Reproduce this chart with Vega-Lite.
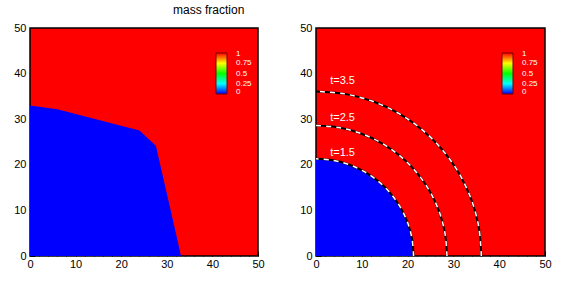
{
  "$schema": "https://vega.github.io/schema/vega-lite/v6.json",
  "background": "white",
  "padding": {"left": 13, "top": 4, "right": 5, "bottom": 5},
  "title": {"text": "mass fraction", "anchor": "start", "frame": "group", "dx": 143, "fontSize": 12, "font": "Liberation Sans", "fontWeight": "normal", "color": "#000000", "offset": 5},
  "config": {
    "font": "Liberation Sans",
    "view": {"stroke": null},
    "axis": {"labelFont": "Liberation Sans", "labelFontSize": 11, "labelColor": "#000000", "domainColor": "#000000", "tickColor": "#000000", "grid": false, "title": null, "labelFlush": false, "zindex": 1}
  },
  "datasets": {
    "bg": [{"x": 0, "x2": 50, "y": 0, "y2": 50, "f": 1}],
    "leftBlue": [
      {"x": 0, "y": 33.0, "f": 0},
      {"x": 6, "y": 32.2, "f": 0},
      {"x": 24, "y": 27.5, "f": 0},
      {"x": 27.6, "y": 24.2, "f": 0},
      {"x": 32, "y": 5, "f": 0},
      {"x": 33.1, "y": 0, "f": 0}
    ],
    "rightBlue": [
      {"x": 0, "y": 21.2, "f": 0},
      {"x": 3.681, "y": 20.878, "f": 0},
      {"x": 7.251, "y": 19.921, "f": 0},
      {"x": 10.6, "y": 18.36, "f": 0},
      {"x": 13.627, "y": 16.24, "f": 0},
      {"x": 16.24, "y": 13.627, "f": 0},
      {"x": 18.36, "y": 10.6, "f": 0},
      {"x": 19.921, "y": 7.251, "f": 0},
      {"x": 20.878, "y": 3.681, "f": 0},
      {"x": 21.2, "y": 0, "f": 0}
    ],
    "fronts": [
      {"t": "1.5", "a": 0, "x": 21.3, "y": 0},
      {"t": "1.5", "a": 10, "x": 20.976, "y": 3.699},
      {"t": "1.5", "a": 20, "x": 20.015, "y": 7.285},
      {"t": "1.5", "a": 30, "x": 18.446, "y": 10.65},
      {"t": "1.5", "a": 40, "x": 16.317, "y": 13.691},
      {"t": "1.5", "a": 50, "x": 13.691, "y": 16.317},
      {"t": "1.5", "a": 60, "x": 10.65, "y": 18.446},
      {"t": "1.5", "a": 70, "x": 7.285, "y": 20.015},
      {"t": "1.5", "a": 80, "x": 3.699, "y": 20.976},
      {"t": "1.5", "a": 90, "x": 0, "y": 21.3},
      {"t": "2.5", "a": 0, "x": 28.6, "y": 0},
      {"t": "2.5", "a": 10, "x": 28.166, "y": 4.966},
      {"t": "2.5", "a": 20, "x": 26.875, "y": 9.782},
      {"t": "2.5", "a": 30, "x": 24.768, "y": 14.3},
      {"t": "2.5", "a": 40, "x": 21.909, "y": 18.384},
      {"t": "2.5", "a": 50, "x": 18.384, "y": 21.909},
      {"t": "2.5", "a": 60, "x": 14.3, "y": 24.768},
      {"t": "2.5", "a": 70, "x": 9.782, "y": 26.875},
      {"t": "2.5", "a": 80, "x": 4.966, "y": 28.166},
      {"t": "2.5", "a": 90, "x": 0, "y": 28.6},
      {"t": "3.5", "a": 0, "x": 36.1, "y": 0},
      {"t": "3.5", "a": 10, "x": 35.552, "y": 6.269},
      {"t": "3.5", "a": 20, "x": 33.923, "y": 12.347},
      {"t": "3.5", "a": 30, "x": 31.264, "y": 18.05},
      {"t": "3.5", "a": 40, "x": 27.654, "y": 23.205},
      {"t": "3.5", "a": 50, "x": 23.205, "y": 27.654},
      {"t": "3.5", "a": 60, "x": 18.05, "y": 31.264},
      {"t": "3.5", "a": 70, "x": 12.347, "y": 33.923},
      {"t": "3.5", "a": 80, "x": 6.269, "y": 35.552},
      {"t": "3.5", "a": 90, "x": 0, "y": 36.1}
    ],
    "labels": [
      {"label": "t=1.5", "x": 3.1, "y": 22.5},
      {"label": "t=2.5", "x": 3.1, "y": 30.2},
      {"label": "t=3.5", "x": 3.1, "y": 38.3}
    ]
  },
  "spacing": 34,
  "resolve": {"scale": {"color": "independent"}},
  "hconcat": [
    {
      "width": 228,
      "height": 228,
      "resolve": {"axis": {"x": "independent", "y": "independent"}},
      "layer": [
        {
          "data": {"name": "bg"},
          "mark": {"type": "rect", "stroke": "#000000", "strokeWidth": 1.5},
          "encoding": {
            "x": {"field": "x", "type": "quantitative", "scale": {"domain": [0, 50], "nice": false, "zero": false}, "axis": {"orient": "bottom", "values": [0, 10, 20, 30, 40, 50], "tickSize": -5, "labelPadding": 7, "domain": false}},
            "x2": {"field": "x2"},
            "y": {"field": "y", "type": "quantitative", "scale": {"domain": [0, 50], "nice": false, "zero": false}, "axis": {"orient": "left", "values": [0, 10, 20, 30, 40, 50], "tickSize": -5, "labelPadding": 9, "domain": false}},
            "y2": {"field": "y2"},
            "color": {"field": "f", "type": "quantitative", "scale": {"domain": [0, 0.25, 0.5, 0.75, 1], "range": ["#0000ff", "#00ffff", "#00ff00", "#ffff00", "#ff0000"], "interpolate": "rgb"},
              "legend": {"orient": "none", "legendX": 186, "legendY": 25, "direction": "vertical", "gradientLength": 41, "gradientThickness": 11, "title": null, "values": [0.04, 0.25, 0.5, 0.75, 0.98], "labelExpr": "datum.value < 0.1 ? '0' : datum.value > 0.9 ? '1' : format(datum.value, '.2~f')", "labelColor": "#ffffff", "labelFontSize": 8, "labelFont": "Liberation Sans", "labelOffset": 9, "labelOverlap": false, "gradientStrokeColor": "#7a0000", "gradientStrokeWidth": 1, "padding": 0}}
          }
        },
        {
          "data": {"name": "leftBlue"},
          "mark": {"type": "area"},
          "encoding": {
            "x": {"field": "x", "type": "quantitative", "axis": {"orient": "bottom", "values": [2, 4, 6, 8, 12, 14, 16, 18, 22, 24, 26, 28, 32, 34, 36, 38, 42, 44, 46, 48], "tickSize": -2.5, "labels": false, "domain": false}},
            "y": {"field": "y", "type": "quantitative", "axis": {"orient": "left", "values": [2, 4, 6, 8, 12, 14, 16, 18, 22, 24, 26, 28, 32, 34, 36, 38, 42, 44, 46, 48], "tickSize": -2.5, "labels": false, "domain": false}},
            "color": {"field": "f", "type": "quantitative"}
          }
        }
      ]
    },
    {
      "width": 229,
      "height": 228,
      "resolve": {"axis": {"x": "independent", "y": "independent"}},
      "layer": [
        {
          "data": {"name": "bg"},
          "mark": {"type": "rect", "stroke": "#000000", "strokeWidth": 1.5},
          "encoding": {
            "x": {"field": "x", "type": "quantitative", "scale": {"domain": [0, 50], "nice": false, "zero": false}, "axis": {"orient": "bottom", "values": [0, 10, 20, 30, 40, 50], "tickSize": -5, "labelPadding": 7, "domain": false}},
            "x2": {"field": "x2"},
            "y": {"field": "y", "type": "quantitative", "scale": {"domain": [0, 50], "nice": false, "zero": false}, "axis": {"orient": "left", "values": [0, 10, 20, 30, 40, 50], "tickSize": -5, "labelPadding": 9, "domain": false}},
            "y2": {"field": "y2"},
            "color": {"field": "f", "type": "quantitative", "scale": {"domain": [0, 0.25, 0.5, 0.75, 1], "range": ["#0000ff", "#00ffff", "#00ff00", "#ffff00", "#ff0000"], "interpolate": "rgb"},
              "legend": {"orient": "none", "legendX": 186, "legendY": 25, "direction": "vertical", "gradientLength": 41, "gradientThickness": 11, "title": null, "values": [0.04, 0.25, 0.5, 0.75, 0.98], "labelExpr": "datum.value < 0.1 ? '0' : datum.value > 0.9 ? '1' : format(datum.value, '.2~f')", "labelColor": "#ffffff", "labelFontSize": 8, "labelFont": "Liberation Sans", "labelOffset": 9, "labelOverlap": false, "gradientStrokeColor": "#7a0000", "gradientStrokeWidth": 1, "padding": 0}}
          }
        },
        {
          "data": {"name": "rightBlue"},
          "mark": {"type": "area", "interpolate": "catmull-rom"},
          "encoding": {
            "x": {"field": "x", "type": "quantitative", "axis": {"orient": "bottom", "values": [2, 4, 6, 8, 12, 14, 16, 18, 22, 24, 26, 28, 32, 34, 36, 38, 42, 44, 46, 48], "tickSize": -2.5, "labels": false, "domain": false}},
            "y": {"field": "y", "type": "quantitative", "axis": {"orient": "left", "values": [2, 4, 6, 8, 12, 14, 16, 18, 22, 24, 26, 28, 32, 34, 36, 38, 42, 44, 46, 48], "tickSize": -2.5, "labels": false, "domain": false}},
            "color": {"field": "f", "type": "quantitative"}
          }
        },
        {
          "data": {"name": "fronts"},
          "mark": {"type": "line", "interpolate": "catmull-rom", "color": "#000000", "strokeWidth": 2},
          "encoding": {
            "x": {"field": "x", "type": "quantitative", "axis": null},
            "y": {"field": "y", "type": "quantitative", "axis": null},
            "detail": {"field": "t"},
            "order": {"field": "a", "type": "quantitative"}
          }
        },
        {
          "data": {"name": "fronts"},
          "mark": {"type": "line", "interpolate": "catmull-rom", "color": "#ffffff", "strokeWidth": 1.5, "strokeDash": [5, 5]},
          "encoding": {
            "x": {"field": "x", "type": "quantitative", "axis": null},
            "y": {"field": "y", "type": "quantitative", "axis": null},
            "detail": {"field": "t"},
            "order": {"field": "a", "type": "quantitative"}
          }
        },
        {
          "data": {"name": "labels"},
          "mark": {"type": "text", "align": "left", "baseline": "middle", "color": "#ffffff", "fontSize": 11, "font": "Liberation Sans"},
          "encoding": {
            "x": {"field": "x", "type": "quantitative", "axis": null},
            "y": {"field": "y", "type": "quantitative", "axis": null},
            "text": {"field": "label"}
          }
        }
      ]
    }
  ]
}
